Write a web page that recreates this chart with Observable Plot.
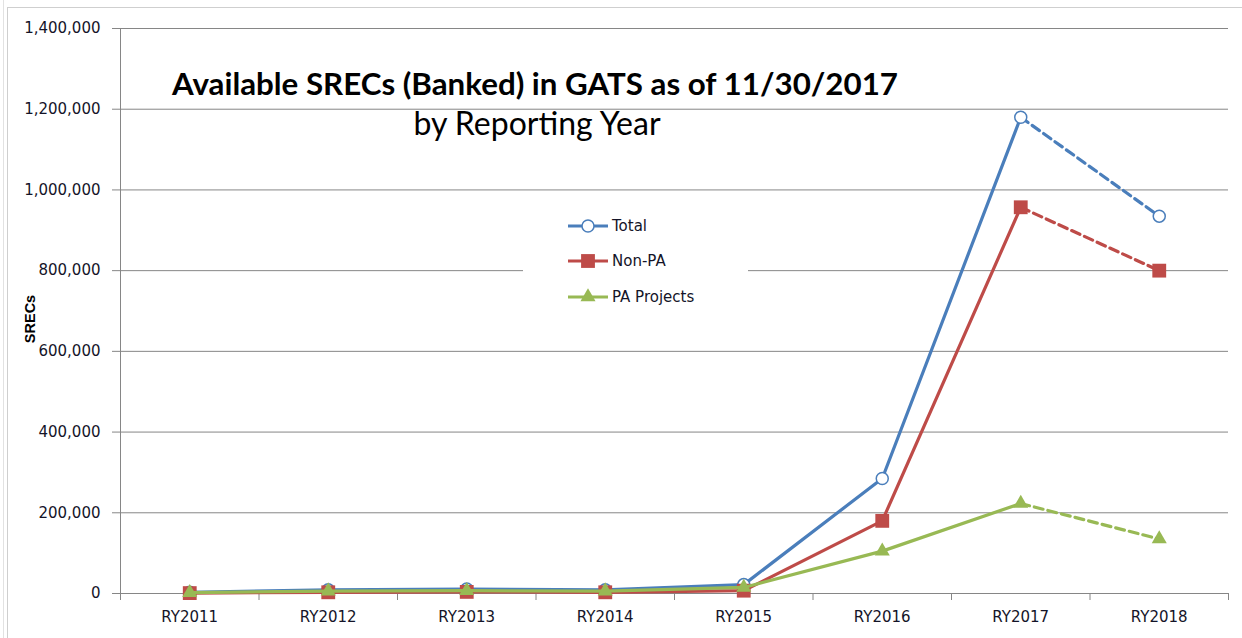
<!DOCTYPE html>
<html><head><meta charset="utf-8">
<script src="https://cdn.jsdelivr.net/npm/d3@7"></script>
<script src="https://cdn.jsdelivr.net/npm/@observablehq/plot@0.6"></script>
<style>
html,body{margin:0;padding:0;background:#fff;}
#wrap{position:relative;width:1242px;height:638px;overflow:hidden;}
#wrap svg{position:absolute;left:0;top:0;}
</style></head><body><div id="wrap"></div>
<script>
// ---- data ----
const years = ["RY2011","RY2012","RY2013","RY2014","RY2015","RY2016","RY2017","RY2018"];
const totalValues = [3000, 9000, 11000, 9000, 22000, 285000, 1180000, 935000];
const nonPAValues = [1000, 3000, 4000, 3000, 7000, 180000, 957000, 800000];
const paProjectValues = [2000, 6000, 7000, 6000, 15000, 105000, 223000, 135000];
const seriesNames = ["Total", "Non-PA", "PA Projects"];
const seriesColors = ["#4A7EBB", "#BE4B48", "#98B954"];
const yTicks = [0, 200000, 400000, 600000, 800000, 1000000, 1200000, 1400000];
const titleText = "Available SRECs (Banked) in GATS as of 11/30/2017";
const subtitleText = "by Reporting Year";
const yLabel = "SRECs";

const seriesValues = [totalValues, nonPAValues, paProjectValues];
const rows = [];
seriesNames.forEach((s, k) => seriesValues[k].forEach((v, i) => rows.push({series: s, i, year: years[i], value: v})));

const W = 1242, H = 638;
const gray = "#868686";
const markerStyle = [
  {symbol: "circle", r: 6, fill: "white", strokeWidth: 1.5},
  {symbol: "square", r: 7.8, strokeWidth: 0},
  {symbol: "triangle", r: 5.6, strokeWidth: 0}
];
const xPos = r => r.i + 0.5;

const seriesMarks = seriesNames.flatMap((s, k) => {
  const d = rows.filter(r => r.series === s);
  const c = seriesColors[k];
  const m = markerStyle[k];
  return [
    Plot.line(d.filter(r => r.i <= 6), {x: xPos, y: "value", stroke: c, strokeWidth: 3.2, strokeLinejoin: "round"}),
    Plot.line(d.filter(r => r.i >= 6), {x: xPos, y: "value", stroke: c, strokeWidth: 3.2, strokeDasharray: "9,5"}),
    Plot.dot(d, {x: xPos, y: "value", symbol: m.symbol, r: m.r, fill: m.fill || c, stroke: m.fill ? c : "none", strokeWidth: m.strokeWidth})
  ];
});

const chart = Plot.plot({
  width: W, height: H,
  marginLeft: 120, marginRight: 14, marginTop: 28, marginBottom: 45,
  x: {domain: [0, years.length]},
  y: {domain: [0, 1400000]},
  style: {fontFamily: "DejaVu Sans", fontSize: "15px", color: "#141428", background: "transparent"},
  marks: [
    Plot.ruleY(yTicks.filter(v => v > 0), {stroke: gray}),
    Plot.ruleY([0], {stroke: gray}),
    Plot.ruleX([0], {stroke: gray}),
    Plot.axisY({ticks: yTicks, tickFormat: d3.format(","), tickSize: 8, tickPadding: 12, stroke: gray, label: null, fontSize: 15}),
    Plot.axisX({ticks: d3.range(years.length + 1), tickSize: 7, tickFormat: () => "", stroke: gray, label: null}),
    Plot.axisX(d3.range(years.length).map(i => i + 0.5), {tickSize: 0, tickPadding: 18, tickFormat: v => years[Math.floor(v)], label: null, fontSize: 15}),
    Plot.text([yLabel], {frameAnchor: "left", textAnchor: "middle", lineAnchor: "middle", rotate: -90, dx: -90, dy: 8, fontWeight: "bold", fontSize: 14.5, fontFamily: "Liberation Sans", fill: "#000"}),
    ...seriesMarks
  ]
});
const wrap = document.getElementById("wrap");
wrap.appendChild(chart);

// ---- overlay: frame, title, legend ----
const ov = d3.select(wrap).append("svg").attr("width", W).attr("height", H).style("pointer-events", "none");
ov.append("line").attr("x1", 3.5).attr("x2", 3.5).attr("y1", 0).attr("y2", H).attr("stroke", "#e2e2e2");
ov.append("line").attr("x1", 7.5).attr("x2", 7.5).attr("y1", 7).attr("y2", H).attr("stroke", "#cfcfcf");
ov.append("line").attr("x1", 7).attr("x2", W).attr("y1", 7.5).attr("y2", 7.5).attr("stroke", "#cfcfcf");

ov.append("text").attr("x", 535).attr("y", 95).attr("text-anchor", "middle")
  .attr("font-family", "Lato").attr("font-weight", 700).attr("font-size", 31.3).attr("fill", "#000").text(titleText);
ov.append("text").attr("x", 537).attr("y", 135).attr("text-anchor", "middle")
  .attr("font-family", "Lato").attr("font-weight", 400).attr("font-size", 32).attr("fill", "#000").text(subtitleText);

const lg = ov.append("g");
lg.append("rect").attr("x", 523).attr("y", 200).attr("width", 225).attr("height", 115).attr("fill", "white");
const legendY = [226, 261, 297];
const symType = {circle: d3.symbolCircle, square: d3.symbolSquare, triangle: d3.symbolTriangle};
seriesNames.forEach((s, k) => {
  const y = legendY[k], c = seriesColors[k], m = markerStyle[k];
  lg.append("line").attr("x1", 568).attr("x2", 608).attr("y1", y).attr("y2", y).attr("stroke", c).attr("stroke-width", 3.2);
  lg.append("path").attr("transform", `translate(588,${y})`)
    .attr("d", d3.symbol(symType[m.symbol], Math.PI * m.r * m.r)())
    .attr("fill", m.fill || c).attr("stroke", m.fill ? c : "none").attr("stroke-width", m.strokeWidth);
  lg.append("text").attr("x", 612).attr("y", y).attr("dy", "0.35em")
    .attr("font-family", "DejaVu Sans").attr("font-size", 15).attr("fill", "#141428").text(s);
});
</script></body></html>
